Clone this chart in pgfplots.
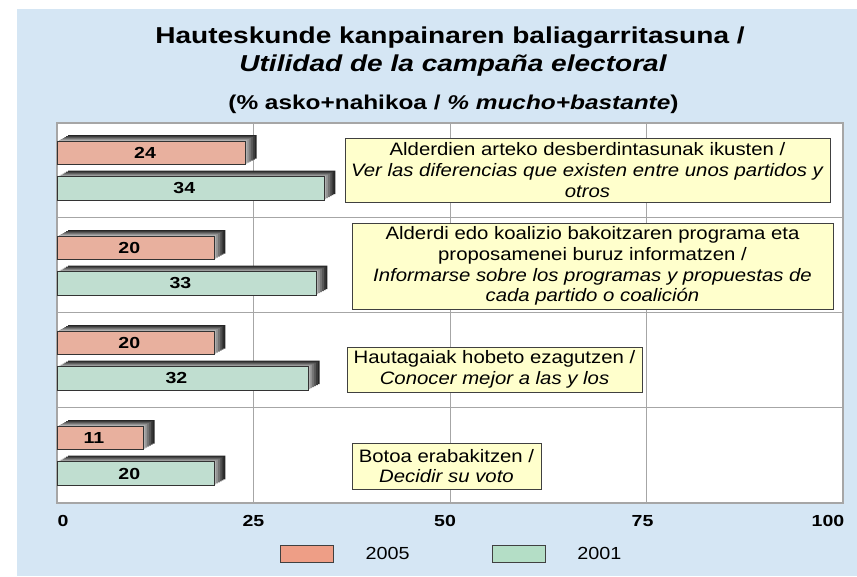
\documentclass[border=0pt]{standalone}
\usepackage{fontspec}
\setmainfont{Liberation Sans}[FakeStretch=1.13,
  BoldFeatures={FakeStretch=1.22}, BoldItalicFeatures={FakeStretch=1.22}]
\usepackage{pgfplots}
\usepackage{pgfplotstable}
\pgfplotsset{compat=1.18}

\definecolor{bgblue}{HTML}{D5E6F4}
\definecolor{bar05}{HTML}{E8B09E}
\definecolor{bar01}{HTML}{C0DED0}
\definecolor{leg05}{HTML}{EE9E86}
\definecolor{leg01}{HTML}{B4DEC6}
\definecolor{notefill}{HTML}{FFFFCC}
\definecolor{gridgray}{HTML}{A6A6A6}
% side/top faces of the 3d bars, near to far
\definecolor{shade1}{HTML}{B0B0B0}
\definecolor{shade2}{HTML}{929292}
\definecolor{shade3}{HTML}{747474}
\definecolor{shade4}{HTML}{585858}
\definecolor{shade5}{HTML}{3C3C3C}
\definecolor{shade6}{HTML}{262626}

% 2005
\pgfplotstableread{
y v
3 24
2 20
1 20
0 11
}\dataA
% 2001
\pgfplotstableread{
y v
3 34
2 33
1 32
0 20
}\dataB

\begin{document}
\begin{tikzpicture}
\fill[white] (0pt,0pt) rectangle (857pt,576pt);
\fill[bgblue] (17pt,0pt) rectangle (857pt,567pt);

\node[anchor=base, font=\fontsize{23}{28}\selectfont\bfseries] at (450pt,532pt)
  {Hauteskunde kanpainaren baliagarritasuna /};
\node[anchor=base, font=\fontsize{23}{28}\selectfont\bfseries\itshape] at (453pt,504pt)
  {Utilidad de la campaña electoral};
\node[anchor=base, font=\fontsize{20}{22}\selectfont\bfseries] at (453.5pt,466pt)
  {(\% asko+nahikoa / \textit{\% mucho+bastante})};

\begin{axis}[
  at={(57pt,73pt)}, anchor=south west,
  width=786pt, height=380pt, scale only axis,
  xmin=0, xmax=100, ymin=-0.5, ymax=3.5,
  xtick={0,25,50,75,100},
  xticklabels={\hspace*{12pt}0, 25, 50\hspace*{10pt}, 75\hspace*{8pt}, 100\hspace*{30pt}},
  ytick={0.5,1.5,2.5}, yticklabels={},
  major tick length=0pt,
  xmajorgrids, ymajorgrids,
  grid style={gridgray, line width=1pt},
  axis line style={gridgray, line width=2pt},
  axis background/.style={fill=white},
  /pgf/number format/assume math mode=true,
  xticklabel style={overlay, font=\fontsize{16}{18}\selectfont\bfseries,
    text height=11.5pt, text depth=0pt, yshift=-8pt},
  legend columns=2,
  legend style={at={(0.502,-0.134)}, anchor=center, draw=none, fill=none,
    font=\fontsize{17.5}{20}\selectfont,
    /tikz/every odd column/.style={column sep=30pt},
    /tikz/column 2/.style={column sep=80pt}},
  bars/.style={xbar, bar width=23.5pt, forget plot},
  labels/.style={nodes near coords, point meta=x,
    visualization depends on={rawx/2+0.8 \as \half},
    nodes near coords style={anchor=center, text=black,
      font=\fontsize{16}{18}\selectfont\bfseries,
      shift={(axis direction cs:-\half,0)}, yshift=#1}},
]
% depth layers behind the bars
\pgfplotsinvokeforeach{6,5,4,3,2,1}{
  \addplot[bars, bar shift=17.5pt, draw=none, fill=shade#1,
    xshift=#1*1.85pt, yshift=#1*1pt] table[x=v,y=y]{\dataA};
  \addplot[bars, bar shift=-18pt, draw=none, fill=shade#1,
    xshift=#1*1.85pt, yshift=#1*1pt] table[x=v,y=y]{\dataB};
}
\addplot[bars, labels=17.5pt, bar shift=17.5pt, draw=black!80, line width=0.8pt, fill=bar05]
  table[x=v,y=y]{\dataA};
\addplot[bars, labels=-18pt, bar shift=-18pt, draw=black!80, line width=0.8pt, fill=bar01]
  table[x=v,y=y]{\dataB};

\addlegendimage{legend image code/.code={\draw[draw=black!75, line width=0.8pt, fill=leg05] (0pt,-8.5pt) rectangle (53pt,8.5pt);}}
\addlegendentry{2005}
\addlegendimage{legend image code/.code={\draw[draw=black!75, line width=0.8pt, fill=leg01] (0pt,-8.5pt) rectangle (53pt,8.5pt);}}
\addlegendentry{2001}
\end{axis}

\tikzset{note/.style={draw=black!75, line width=0.8pt, fill=notefill, align=center,
  inner sep=0pt, font=\fontsize{18}{20.7}\selectfont}}
\node[note, minimum width=485pt, minimum height=64pt] at (587.5pt,406pt)
  {Alderdien arteko desberdintasunak ikusten /\\
   \textit{Ver las diferencias que existen entre unos partidos y}\\
   \textit{otros}};
\node[note, minimum width=481pt, minimum height=86pt] at (592.5pt,310pt)
  {Alderdi edo koalizio bakoitzaren programa eta\\
   proposamenei buruz informatzen /\\
   \textit{Informarse sobre los programas y propuestas de}\\
   \textit{cada partido o coalición}};
\node[note, minimum width=295pt, minimum height=45pt] at (494.5pt,206.5pt)
  {Hautagaiak hobeto ezagutzen /\\
   \textit{Conocer mejor a las y los}};
\node[note, minimum width=189pt, minimum height=46pt] at (446.5pt,110pt)
  {Botoa erabakitzen /\\
   \textit{Decidir su voto}};
\end{tikzpicture}
\end{document}
